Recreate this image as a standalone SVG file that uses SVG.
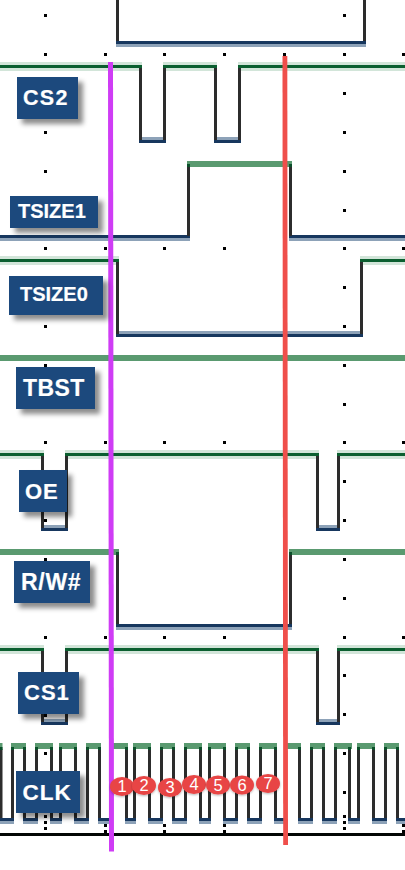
<svg xmlns="http://www.w3.org/2000/svg" width="405" height="870" viewBox="0 0 405 870">
<style>
.v{fill:none;stroke:#2c2c2c;stroke-width:3}
.cap{fill:none;stroke:#0b4f2a;stroke-width:3}
.halo{fill:#d2e5d9}
.hi{fill:#0b5f30}
.band{fill:#5a9a70}
.navy{fill:#17375e}
.gray{fill:#8da2b8}
.dots{fill:#000}
.lb{fill:#1f497d;filter:url(#s)}
.lt{font-family:"Liberation Sans",Arial,sans-serif;font-weight:bold;fill:#fff;stroke:#fff;stroke-width:.2}
.ov{fill:#e84545;filter:url(#o)}
.ot{font-family:"Liberation Sans",Arial,sans-serif;font-size:16.500px;fill:#fff;text-anchor:middle}
</style>
<defs>
<filter id="s" x="-20%" y="-20%" width="150%" height="160%"><feDropShadow dx="5" dy="5" stdDeviation="2.500" flood-color="#000" flood-opacity="0.45"/></filter>
<filter id="o" x="-20%" y="-20%" width="140%" height="140%"><feDropShadow dx="0" dy="1" stdDeviation="1" flood-color="#000" flood-opacity="0.3"/></filter>
</defs>
<rect width="405" height="870" fill="#fff"/>
<g id="grid" class="dots">
<path d="M44 14h3v3h-3zM343 14h3v3h-3zM44 53h3v3h-3zM104 53h3v3h-3zM163 53h3v3h-3zM223 53h3v3h-3zM283 53h3v3h-3zM343 53h3v3h-3zM402 53h3v3h-3zM343 92h3v3h-3zM44 131h3v3h-3zM343 131h3v3h-3zM44 170h3v3h-3zM343 170h3v3h-3zM343 209h3v3h-3zM44 247h3v3h-3zM104 247h3v3h-3zM163 247h3v3h-3zM223 247h3v3h-3zM343 247h3v3h-3zM402 247h3v3h-3zM343 286h3v3h-3zM44 325h3v3h-3zM343 325h3v3h-3zM44 364h3v3h-3zM343 364h3v3h-3zM343 403h3v3h-3zM44 441h3v3h-3zM104 441h3v3h-3zM163 441h3v3h-3zM223 441h3v3h-3zM343 441h3v3h-3zM402 441h3v3h-3zM343 480h3v3h-3zM44 519h3v3h-3zM343 519h3v3h-3zM44 558h3v3h-3zM343 558h3v3h-3zM343 597h3v3h-3zM44 636h3v3h-3zM104 636h3v3h-3zM163 636h3v3h-3zM223 636h3v3h-3zM343 636h3v3h-3zM402 636h3v3h-3zM343 674h3v3h-3zM44 714h3v3h-3zM343 713h3v3h-3zM44 752h3v3h-3zM343 752h3v3h-3zM343 791h3v3h-3zM44 815h3v3h-3zM44 821h3v3h-3zM44 827h3v3h-3zM343 815h3v3h-3zM343 821h3v3h-3zM343 827h3v3h-3zM104 824h3v3h-3zM104 830h3v3h-3zM163 824h3v3h-3zM163 830h3v3h-3zM223 824h3v3h-3zM223 830h3v3h-3zM402 824h3v3h-3zM402 830h3v3h-3z"/>
</g>
<g id="connectors">
<g id="trace-top">
<path class="v" d="M117.500 0V42M364.500 0V42"/>
<rect class="navy" x="116" y="41" width="250" height="3"/><rect class="gray" x="116" y="44" width="250" height="3"/>
</g>
<g id="trace-cs2">
<path class="halo" d="M0 62h142v9H0zM163 62h54v9h-54zM238 62h167v9H238z"/>
<path class="hi" d="M0 65h142v3H0zM163 65h54v3h-54zM238 65h167v3H238z"/>
<path class="v" d="M140.500 68V141M164.500 68V141M215.500 68V141M239.500 68V141"/>
<path class="gray" d="M142 137h21v3h-21zM217 137h21v3h-21z"/>
<path class="navy" d="M139 140h27v3h-27zM214 140h27v3h-27z"/>
</g>
<g id="trace-tsize1">
<path class="navy" d="M0 235h190v3H0zM289 235h116v3H289z"/>
<path class="gray" d="M0 238h190v3H0zM289 238h116v3H289z"/>
<path class="v" d="M188.500 167V236M290.500 167V236"/>
<rect class="band" x="187" y="161" width="105" height="6"/>
<path class="cap" d="M188.500 164v3M290.500 164v3"/>
</g>
<g id="trace-tsize0">
<path class="halo" d="M0 256h119v9H0zM360 256h45v9h-45z"/>
<path class="hi" d="M0 259h119v3H0zM360 259h45v3h-45z"/>
<path class="v" d="M117.500 262V335M361.500 262V335"/>
<rect class="gray" x="119" y="331" width="241" height="3"/>
<rect class="navy" x="116" y="334" width="247" height="3"/>
</g>
<g id="trace-tbst"><rect class="band" x="0" y="355" width="405" height="6"/></g>
<g id="trace-oe">
<path class="halo" d="M0 450h44v9H0zM65 450h254v9H65zM337 450h68v9h-68z"/>
<path class="hi" d="M0 453h44v3H0zM65 453h254v3H65zM337 453h68v3h-68z"/>
<path class="v" d="M42.500 456V529M66.500 456V529M317.500 456V529M338.500 456V529"/>
<path class="gray" d="M44 525h21v3H44zM319 525h18v3h-18z"/>
<path class="navy" d="M41 528h27v3H41zM316 528h24v3h-24z"/>
</g>
<g id="trace-rw">
<rect class="band" x="0" y="549" width="119" height="6"/><rect class="band" x="289" y="549" width="116" height="6"/>
<path class="cap" d="M117.500 552v3M290.500 552v3"/>
<path class="v" d="M117.500 555V625M290.500 555V625"/>
<rect class="navy" x="116" y="624" width="176" height="3"/><rect class="gray" x="116" y="627" width="176" height="3"/>
</g>
<g id="trace-cs1">
<path class="halo" d="M0 645h44v9H0zM65 645h254v9H65zM337 645h68v9h-68z"/>
<path class="hi" d="M0 648h44v3H0zM65 648h254v3H65zM337 648h68v3h-68z"/>
<path class="v" d="M42.500 651V723M66.500 651V723M317.500 651V723M338.500 651V723"/>
<path class="gray" d="M44 719h21v3H44zM319 719h18v3h-18z"/>
<path class="navy" d="M41 722h27v3H41zM316 722h24v3h-24z"/>
</g>
<g id="trace-clk">
<path class="v" d="M1 749V819M12.500 749V819M24.500 749V819M36.500 749V819M51.500 749V819M60.500 749V819M75.500 749V819M87.500 749V819M99.500 749V819M111.500 749V819M126.500 749V819M134.500 749V819M149.500 749V819M161.500 749V819M173.500 749V819M185.500 749V819M200.500 749V819M209.500 749V819M224.500 749V819M236.500 749V819M248.500 749V819M260.500 749V819M275.500 749V819M285.500 749V819M299.500 749V819M311.500 749V819M323.500 749V819M335.500 749V819M349.500 749V819M358.500 749V819M373.500 749V819M385.500 749V819M397.500 749V819"/>
<path class="band" d="M0 743h2.500v6H0zM11 743h15v6H11zM35 743h18v6H35zM59 743h18v6H59zM86 743h15v6H86zM110 743h18v6h-18zM133 743h18v6h-18zM160 743h15v6h-15zM184 743h18v6h-18zM208 743h18v6h-18zM235 743h15v6h-15zM259 743h18v6h-18zM284 743h17v6h-17zM310 743h15v6h-15zM334 743h18v6h-18zM357 743h18v6h-18zM384 743h15v6h-15z"/>
<path class="cap" d="M1 747v3M12.500 747v3M24.500 747v3M36.500 747v3M51.500 747v3M60.500 747v3M75.500 747v3M87.500 747v3M99.500 747v3M111.500 747v3M126.500 747v3M134.500 747v3M149.500 747v3M161.500 747v3M173.500 747v3M185.500 747v3M200.500 747v3M209.500 747v3M224.500 747v3M236.500 747v3M248.500 747v3M260.500 747v3M275.500 747v3M285.500 747v3M299.500 747v3M311.500 747v3M323.500 747v3M335.500 747v3M349.500 747v3M358.500 747v3M373.500 747v3M385.500 747v3M397.500 747v3"/>
<path class="navy" d="M0 818h14v3H0zM23 818h15v3H23zM50 818h12v3H50zM74 818h15v3H74zM98 818h15v3H98zM125 818h11v3h-11zM148 818h15v3h-15zM172 818h15v3h-15zM199 818h12v3h-12zM223 818h15v3h-15zM247 818h15v3h-15zM274 818h13v3h-13zM298 818h15v3h-15zM322 818h15v3h-15zM348 818h12v3h-12zM372 818h15v3h-15zM396 818h9v3h-9z"/>
<path class="gray" d="M0 821h14v3H0zM23 821h15v3H23zM50 821h12v3H50zM74 821h15v3H74zM98 821h15v3H98zM125 821h11v3h-11zM148 821h15v3h-15zM172 821h15v3h-15zM199 821h12v3h-12zM223 821h15v3h-15zM247 821h15v3h-15zM274 821h13v3h-13zM298 821h15v3h-15zM322 821h15v3h-15zM348 821h12v3h-12zM372 821h15v3h-15zM396 821h9v3h-9z"/>
</g>
<rect id="baseline" x="0" y="833" width="405" height="3" fill="#020604"/>
<path id="marker-violet" d="M108 62h5l1 789.500h-5z" fill="#cf3cf5"/>
<path id="marker-red" d="M282.500 56h4.800l.7 789h-4.800z" fill="#ef4f4b"/>
</g>
<g id="node-cs2"><rect class="lb" x="17" y="77" width="61" height="42"/><text class="lt" x="23" y="105" font-size="21.500" letter-spacing="1.300">CS2</text></g>
<g id="node-tsize1"><rect class="lb" x="10" y="196" width="88" height="32"/><text class="lt" x="18" y="218" font-size="20">TSIZE1</text></g>
<g id="node-tsize0"><rect class="lb" x="9" y="276" width="94" height="39"/><text class="lt" x="20" y="301" font-size="20">TSIZE0</text></g>
<g id="node-tbst"><rect class="lb" x="16" y="367" width="79" height="42"/><text class="lt" x="23" y="396" font-size="23" letter-spacing=".4">TBST</text></g>
<g id="node-oe"><rect class="lb" x="19" y="470" width="48" height="42"/><text class="lt" x="25" y="498.500" font-size="22" letter-spacing="1">OE</text></g>
<g id="node-rw"><rect class="lb" x="14" y="561" width="76" height="42"/><text class="lt" x="21" y="590" font-size="23" letter-spacing=".7">R/W#</text></g>
<g id="node-cs1"><rect class="lb" x="18" y="672" width="61" height="42"/><text class="lt" x="24" y="700" font-size="22" letter-spacing="1">CS1</text></g>
<g id="node-clk"><rect class="lb" x="16" y="771" width="64" height="42"/><text class="lt" x="22.500" y="799.500" font-size="22.500" letter-spacing="1">CLK</text></g>
<g id="node-1"><ellipse class="ov" cx="122" cy="786.500" rx="12" ry="9.500"/><text class="ot" x="122" y="792">1</text></g>
<g id="node-2"><ellipse class="ov" cx="144" cy="785.500" rx="12" ry="9.500"/><text class="ot" x="144" y="790.500">2</text></g>
<g id="node-3"><ellipse class="ov" cx="170" cy="787.500" rx="12" ry="9.500"/><text class="ot" x="170" y="793">3</text></g>
<g id="node-4"><ellipse class="ov" cx="194" cy="784.500" rx="12" ry="9.500"/><text class="ot" x="194" y="790">4</text></g>
<g id="node-5"><ellipse class="ov" cx="218" cy="785" rx="12" ry="9.500"/><text class="ot" x="218" y="790.500">5</text></g>
<g id="node-6"><ellipse class="ov" cx="242" cy="785" rx="12" ry="9.500"/><text class="ot" x="242" y="790.500">6</text></g>
<g id="node-7"><ellipse class="ov" cx="268" cy="783.500" rx="12" ry="9.500"/><text class="ot" x="268" y="789">7</text></g>
</svg>
